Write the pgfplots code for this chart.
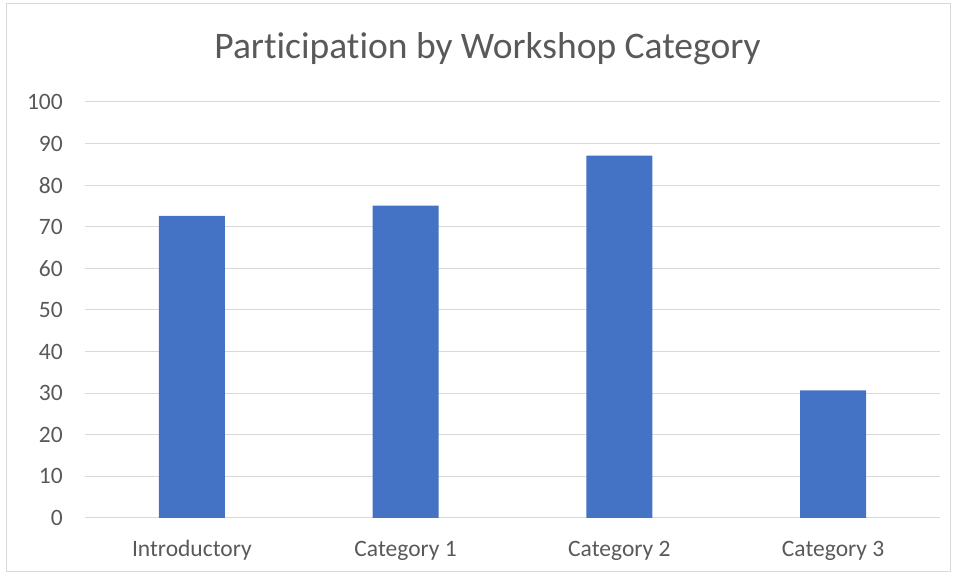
\documentclass[border=0pt]{standalone}
\usepackage{fontspec}
\setmainfont{Carlito}[Ligatures={NoCommon}]
\usepackage{pgfplots}
\pgfplotsset{compat=1.18}
\definecolor{barblue}{HTML}{4472C4}
\definecolor{txtgray}{HTML}{595959}
\definecolor{gridgray}{HTML}{D9D9D9}
\begin{document}
\begin{tikzpicture}
\path (-85pt,-57pt) rectangle (869pt,518pt);
\draw[gridgray, line width=1pt] (-78pt,-54pt) rectangle (865pt,514pt);
\begin{axis}[
  at={(0pt,0pt)}, anchor=south west,
  width=855pt, height=416pt, scale only axis,
  xmin=-0.5, xmax=3.5, ymin=0, ymax=100,
  ytick={0,10,...,100},
  xtick={0,1,2,3},
  xticklabels={Introductory, Category 1, Category 2, Category 3},
  axis line style={draw=none},
  major tick length=0pt,
  ymajorgrids, grid style={gridgray, line width=1pt},
  /pgf/number format/assume math mode=true,
  tick label style={font=\fontsize{23.5}{27}\selectfont, color=txtgray},
  yticklabel style={anchor=east, inner sep=0pt, xshift=-22pt},
  xticklabel style={anchor=base, inner sep=0pt, yshift=-39pt},
  ybar, bar width=66pt,
  clip=false,
]
\addplot[fill=barblue, draw=none, bar shift=0pt] coordinates {(0,72.6) (1,75.1) (2,87.1) (3,30.7)};
\end{axis}
\node[anchor=base, inner sep=0pt, text=txtgray, font=\fontsize{37.5}{44}\selectfont] at (402.5pt,459pt) {Participation by Workshop Category};
\end{tikzpicture}
\end{document}
